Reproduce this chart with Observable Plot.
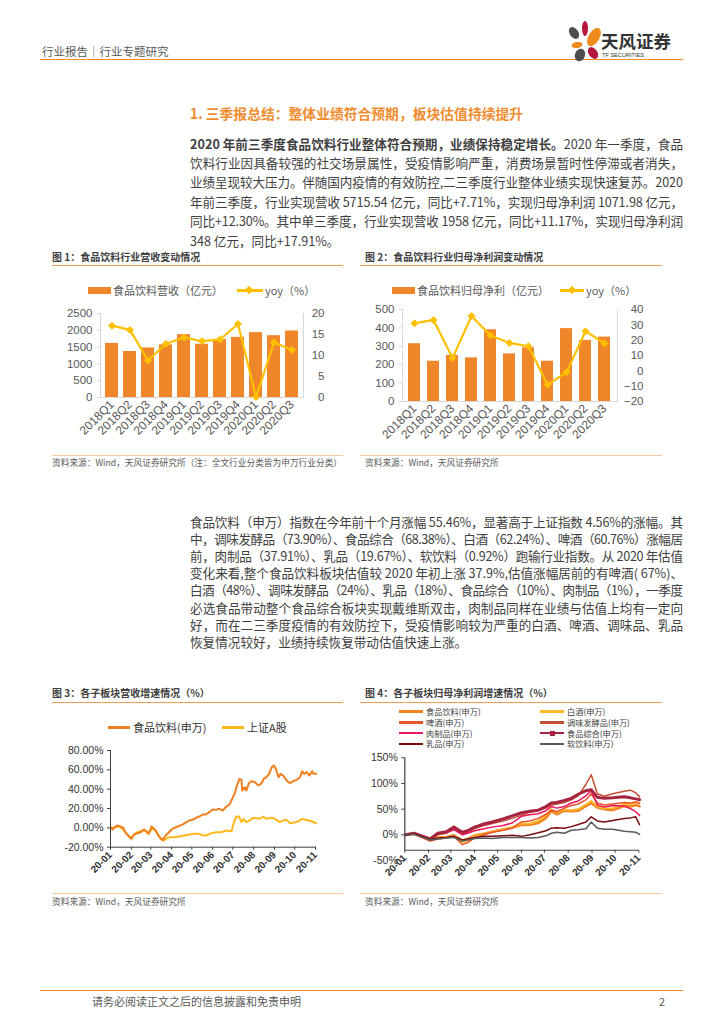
<!DOCTYPE html>
<html><head><meta charset="utf-8">
<script src="https://cdn.jsdelivr.net/npm/d3@7"></script>
<script src="https://cdn.jsdelivr.net/npm/@observablehq/plot@0.6"></script>
<style>
body{margin:0;background:#fff;}
#page{position:relative;width:724px;height:1024px;overflow:hidden;font-family:"Noto Sans CJK SC","Noto Sans",sans-serif;color:#333;background:#fff;}
.a{position:absolute;white-space:nowrap;}
.pl{position:absolute;left:190px;width:493px;height:19px;line-height:19px;font-size:12.6px;color:#404040;white-space:nowrap;font-family:"Liberation Sans Narrow","Noto Sans CJK SC",sans-serif;}
.figt{position:absolute;font-size:10px;font-weight:bold;color:#404040;line-height:12px;white-space:nowrap;}
.hr{position:absolute;height:0;border-top:1px solid #F39C52;}
.hr2{position:absolute;height:0;border-top:1px solid #F8C8A0;}
.src{position:absolute;font-size:8.7px;color:#595959;line-height:10px;white-space:nowrap;}
.chart{position:absolute;}
.leg{position:absolute;font-size:11px;color:#595959;line-height:14px;white-space:nowrap;}
.leg4{position:absolute;font-size:8.2px;color:#404040;line-height:9px;height:9px;white-space:nowrap;}
.sw{position:absolute;}
</style></head>
<body><div id="page">

<!-- header -->
<div class="a" style="left:42px;top:44px;font-size:11.5px;line-height:14px;color:#595959;">行业报告｜行业专题研究</div>
<div class="a" style="left:40px;top:59px;width:643px;height:0;border-top:1.5px solid #F08A24;"></div>
<svg class="a" style="left:562px;top:18px;" width="42" height="46" viewBox="562 18 42 46">
  <ellipse cx="574" cy="33" rx="4.3" ry="6.5" fill="#4D4D4D" transform="rotate(-35 574 33)"/>
  <ellipse cx="585" cy="28.5" rx="3" ry="7.5" fill="#B5173D"/>
  <ellipse cx="594" cy="37" rx="5.5" ry="10" fill="#F08A1C" transform="rotate(30 594 37)"/>
  <ellipse cx="577" cy="45" rx="5.5" ry="3" fill="#F08A1C" transform="rotate(-10 577 45)"/>
  <ellipse cx="593" cy="53" rx="4.3" ry="6.5" fill="#B5173D" transform="rotate(-35 593 53)"/>
  <ellipse cx="580" cy="55" rx="5" ry="6.5" fill="#4D4D4D" transform="rotate(20 580 55)"/>
</svg>
<div class="a" style="left:601px;top:31px;font-size:17.5px;line-height:20px;font-weight:bold;color:#333;">天风证券</div>
<div class="a" style="left:602px;top:52px;font-size:5.6px;line-height:7px;color:#333;font-family:'Liberation Sans',sans-serif;">TF SECURITIES</div>

<!-- section title -->
<div class="a" style="left:190px;top:104px;font-size:13.8px;line-height:18px;font-weight:bold;color:#F08C2E;">1. 三季报总结：整体业绩符合预期，板块估值持续提升</div>

<div id="para1"></div>

<!-- figure 1 / 2 titles -->
<div class="figt" style="left:52px;top:251px;">图 1：食品饮料行业营收变动情况</div>
<div class="figt" style="left:365px;top:251px;">图 2：食品饮料行业归母净利润变动情况</div>
<div class="hr" style="left:52px;top:265px;width:291px;"></div>
<div class="hr" style="left:360px;top:265px;width:302px;"></div>

<!-- legends 1/2 -->
<div class="sw" style="left:88px;top:287px;width:23px;height:7px;background:#F0862A;"></div>
<div class="leg" style="left:113px;top:283px;">食品饮料营收（亿元）</div>
<div class="sw" style="left:237px;top:289px;width:26px;height:2.5px;background:#FFC000;"></div>
<div class="sw" style="left:246px;top:287px;width:6px;height:6px;background:#FFC000;transform:rotate(45deg);"></div>
<div class="leg" style="left:265px;top:283px;">yoy（%）</div>

<div class="sw" style="left:392px;top:287px;width:23px;height:7px;background:#F0862A;"></div>
<div class="leg" style="left:417px;top:283px;">食品饮料归母净利（亿元）</div>
<div class="sw" style="left:560px;top:289px;width:24px;height:2.5px;background:#FFC000;"></div>
<div class="sw" style="left:569px;top:287px;width:6px;height:6px;background:#FFC000;transform:rotate(45deg);"></div>
<div class="leg" style="left:586px;top:283px;">yoy（%）</div>

<div id="c1" class="chart" style="left:40px;top:300px;"></div>
<div id="c2" class="chart" style="left:360px;top:300px;"></div>

<div class="hr2" style="left:52px;top:455px;width:291px;"></div>
<div class="hr2" style="left:360px;top:455px;width:302px;"></div>
<div class="src" style="left:52px;top:458px;">资料来源：Wind，天风证券研究所（注：全文行业分类皆为申万行业分类）</div>
<div class="src" style="left:365px;top:458px;">资料来源：Wind，天风证券研究所</div>

<div id="para2"></div>

<!-- figure 3 / 4 -->
<div class="figt" style="left:52px;top:687px;">图 3：各子板块营收增速情况（%）</div>
<div class="figt" style="left:365px;top:687px;">图 4：各子板块归母净利润增速情况（%）</div>
<div class="hr" style="left:52px;top:702px;width:291px;"></div>
<div class="hr" style="left:360px;top:702px;width:302px;"></div>

<div class="sw" style="left:108px;top:726px;width:22px;height:2.5px;background:#F07F1F;"></div>
<div class="leg" style="left:133px;top:720px;color:#333;">食品饮料(申万)</div>
<div class="sw" style="left:222px;top:726px;width:22px;height:2.5px;background:#FFB81C;"></div>
<div class="leg" style="left:247px;top:720px;color:#333;">上证A股</div>

<div id="leg4"></div>

<div id="c3" class="chart" style="left:40px;top:740px;"></div>
<div id="c4" class="chart" style="left:360px;top:750px;"></div>

<div class="hr2" style="left:52px;top:893px;width:291px;"></div>
<div class="hr2" style="left:360px;top:893px;width:302px;"></div>
<div class="src" style="left:52px;top:897px;">资料来源：Wind，天风证券研究所</div>
<div class="src" style="left:365px;top:897px;">资料来源：Wind，天风证券研究所</div>

<!-- footer -->
<div class="a" style="left:40px;top:990px;width:643px;height:0;border-top:1.5px solid #F08A24;"></div>
<div class="a" style="left:92px;top:995px;font-size:11px;line-height:13px;color:#595959;">请务必阅读正文之后的信息披露和免责申明</div>
<div class="a" style="left:659px;top:995px;font-size:11px;line-height:13px;color:#595959;">2</div>

</div>
<script>
// ================= DATA =================
const para1Lines = [
  "<b>2020 年前三季度食品饮料行业整体符合预期，业绩保持稳定增长。</b>2020 年一季度，食品",
  "饮料行业因具备较强的社交场景属性，受疫情影响严重，消费场景暂时性停滞或者消失，",
  "业绩呈现较大压力。伴随国内疫情的有效防控,二三季度行业整体业绩实现快速复苏。2020",
  "年前三季度，行业实现营收 5715.54 亿元，同比+7.71%，实现归母净利润 1071.98 亿元，",
  "同比+12.30%。其中单三季度，行业实现营收 1958 亿元，同比+11.17%，实现归母净利润",
  "348 亿元，同比+17.91%。"
];
const para2Lines = [
  "食品饮料（申万）指数在今年前十个月涨幅 55.46%，显著高于上证指数 4.56%的涨幅。其",
  "中，调味发酵品（73.90%）、食品综合（68.38%）、白酒（62.24%）、啤酒（60.76%）涨幅居",
  "前，肉制品（37.91%）、乳品（19.67%）、软饮料（0.92%）跑输行业指数。从 2020 年估值",
  "变化来看,整个食品饮料板块估值较 2020 年初上涨 37.9%,估值涨幅居前的有啤酒( 67%)、",
  "白酒（48%）、调味发酵品（24%）、乳品（18%）、食品综合（10%）、肉制品（1%），一季度",
  "必选食品带动整个食品综合板块实现戴维斯双击，肉制品同样在业绩与估值上均有一定向",
  "好，而在二三季度疫情的有效防控下，受疫情影响较为严重的白酒、啤酒、调味品、乳品",
  "恢复情况较好，业绩持续恢复带动估值快速上涨。"
];

// Figure 1
const quarters = ["2018Q1","2018Q2","2018Q3","2018Q4","2019Q1","2019Q2","2019Q3","2019Q4","2020Q1","2020Q2","2020Q3"];
const revenue = [1610,1370,1475,1565,1870,1585,1730,1790,1930,1840,1980];
const revenueYoy = [17.1,16.1,8.8,12.8,14.3,13.4,13.8,17.5,0.1,13.1,11.3];
const revLeftTicks = [0,500,1000,1500,2000,2500];
const revRightTicks = [0,5,10,15,20];

// Figure 2
const profit = [314,219,250,237,390,259,292,219,396,332,350];
const profitYoy = [31,33.2,8.3,35.8,23,18.2,16,-9.1,-1,25.8,17.9];
const profLeftTicks = [0,100,200,300,400,500];
const profRightTicks = [-20,-10,0,10,20,30,40];

// Figure 3
const monthTicks = ["2020-01-01","2020-02-01","2020-03-01","2020-04-01","2020-05-01","2020-06-01","2020-07-01","2020-08-01","2020-09-01","2020-10-01","2020-11-01"];
const fig3Ticks = [-20,0,20,40,60,80];
const foodIndex = [
 ["2020-01-02",0],["2020-01-04",-2],["2020-01-06",0],["2020-01-11",2.4],["2020-01-16",1.4],["2020-01-20",0],
 ["2020-01-23",-4.5],["2020-01-28",-8.6],["2020-02-01",-11.4],["2020-02-05",-6.9],["2020-02-10",-5.5],["2020-02-15",-4.5],
 ["2020-02-20",-1.7],["2020-02-25",-4.5],["2020-02-27",-6.2],["2020-03-02",1.4],["2020-03-06",-1],["2020-03-09",-3.4],
 ["2020-03-12",-7.9],["2020-03-16",-11.4],["2020-03-19",-12.4],["2020-03-23",-7.9],["2020-03-28",-4.5],["2020-04-02",-1],
 ["2020-04-10",1.4],["2020-04-17",3.4],["2020-04-22",5.5],["2020-04-27",7.6],["2020-05-02",8.3],["2020-05-07",10.3],
 ["2020-05-12",11.7],["2020-05-17",13.8],["2020-05-22",13.8],["2020-05-27",16.2],["2020-06-01",19],["2020-06-06",18.6],
 ["2020-06-11",19.7],["2020-06-16",17.9],["2020-06-21",22],["2020-06-26",24],["2020-06-30",30],["2020-07-04",35.9],
 ["2020-07-07",43.8],["2020-07-11",50.7],["2020-07-14",49.7],["2020-07-15",38.6],["2020-07-19",42],["2020-07-21",38.6],
 ["2020-07-25",46.2],["2020-07-29",48.3],["2020-08-03",47.2],["2020-08-08",43.8],["2020-08-13",46.2],["2020-08-16",50.7],
 ["2020-08-20",52.4],["2020-08-24",55.9],["2020-08-28",62.8],["2020-08-31",64.5],["2020-09-03",61],["2020-09-07",52.4],
 ["2020-09-10",55.9],["2020-09-14",54.1],["2020-09-19",49],["2020-09-24",46.2],["2020-09-29",48.3],["2020-10-04",49.7],
 ["2020-10-09",52.4],["2020-10-12",58.6],["2020-10-15",55.9],["2020-10-19",57.6],["2020-10-23",54.1],["2020-10-27",58.6],
 ["2020-10-29",55.9],["2020-11-02",55.9]
];
const sseIndex = [
 ["2020-01-02",0],["2020-01-06",0],["2020-01-11",1.4],["2020-01-16",0.7],["2020-01-21",-2.8],["2020-01-26",-6.9],
 ["2020-02-01",-10.3],["2020-02-05",-6.9],["2020-02-10",-4.5],["2020-02-15",-3.4],["2020-02-20",-2],["2020-02-25",-5.5],
 ["2020-03-01",-2.8],["2020-03-04",0],["2020-03-08",-3.4],["2020-03-13",-7.9],["2020-03-18",-13],["2020-03-22",-12.4],
 ["2020-03-26",-10.3],["2020-03-31",-9.7],["2020-04-05",-9.7],["2020-04-12",-9],["2020-04-20",-7.9],["2020-04-27",-6.9],
 ["2020-05-05",-6.2],["2020-05-12",-6.2],["2020-05-17",-7.6],["2020-05-22",-7.9],["2020-05-30",-5.5],["2020-06-06",-4.5],
 ["2020-06-14",-4.5],["2020-06-21",-2.8],["2020-06-29",-3.4],["2020-07-02",4.1],["2020-07-06",11.7],["2020-07-10",11.7],
 ["2020-07-14",5.9],["2020-07-17",9.3],["2020-07-21",5.9],["2020-07-26",7.6],["2020-07-31",10.3],["2020-08-05",10.3],
 ["2020-08-10",9.3],["2020-08-15",11.7],["2020-08-20",9.3],["2020-08-25",10.3],["2020-08-30",10.3],["2020-09-04",8.3],
 ["2020-09-09",5.9],["2020-09-14",7.6],["2020-09-19",8.3],["2020-09-24",4.8],["2020-10-02",5.9],["2020-10-07",6.9],
 ["2020-10-12",9.3],["2020-10-17",8.3],["2020-10-22",7.6],["2020-10-27",6.6],["2020-11-02",4.8]
];

// Figure 4
const fig4Ticks = [-50,0,50,100,150];
const fig4AxisCross = -30;
const subDates = ["2020-01-02","2020-01-13","2020-01-23","2020-02-03","2020-02-13","2020-02-24","2020-03-05","2020-03-16",
 "2020-03-23","2020-04-01","2020-04-13","2020-04-24","2020-05-08","2020-05-20","2020-06-01","2020-06-12","2020-06-23",
 "2020-07-03","2020-07-10","2020-07-17","2020-07-27","2020-08-05","2020-08-14","2020-08-24","2020-08-31","2020-09-08",
 "2020-09-17","2020-09-28","2020-10-13","2020-10-21","2020-10-28","2020-11-02"];
const subNames = ["食品饮料(申万)","白酒(申万)","啤酒(申万)","调味发酵品(申万)","肉制品(申万)","食品综合(申万)","乳品(申万)","软饮料(申万)"];
const swFood      = [0,2,-4,-10,-5,-4,-1,-11,-8,-1.5,2,6,10.5,14,19,19.5,23,33,46,40,47,46,47,56,62,53,50,48,56,55,58,55.5];
const swBaijiu    = [0,3,-4,-11,-6,-5,-2,-14,-11,-3,1,6,11,15,22,22,27,38,50,43,49,48,50,59,66,56,51,52,60,60,63,62.2];
const swBeer      = [0,2,-5,-12,-8,-6,-3,-19,-15,-6,0,5,9,13,25,27,32,40,48,45,52,57,60,68,80,62,58,60,63,62,64,60.8];
const swSeasoning = [0,3,-3,-9,0,3,12,2,5,12,18,22,27,32,38,44,48,52,58,60,63,68,76,98,117,80,75,80,85,87,82,73.9];
const swMeat      = [0,3,-3,-9,2,4,10,0,3,8,12,15,18,23,36,39,41,47,55,52,55,62,66,76,86,58,54,57,56,51,45,37.9];
const swGeneral   = [0,3,-2,-8,3,6,15,5,8,15,21,25,31,37,43,46,48,55,62,63,67,71,79,86,88,73,71,72,74,72,70,68.4];
const swDairy     = [0,2,-3,-9,-6,-5,-3,-10,-8,-5,-3,-3,-2,-1,-3,0,4,8,13,14,13,16,20,25,35,27,25,28,32,33,35,19.7];
const swSoft      = [0,1,-4,-10,-8,-6,-5,-12,-10,-7,-6,-7,-5,-5,-5,-6,-5,-2,3,5,3,9,10,12,25,13,11,11,7,6,5,0.9];

// ================= STYLE =================
const subValues = [swFood,swBaijiu,swBeer,swSeasoning,swMeat,swGeneral,swDairy,swSoft];
const subColors = ["#F5821F","#FFBA26","#E9542B","#C25034","#F0145A","#A6243F","#7A0C12","#5A5A5A"];
const subWidths = [2.5,1.8,1.5,1.5,1.5,3,1.5,1.5];
const barColor = "#F0862A", yoyColor = "#FFC000";
const numFont = "'Liberation Sans', Arial, sans-serif";
const paraWidth = 493;

// ================= PARAGRAPHS =================
function buildPara(id, lines, top0, step){
  const host = document.getElementById(id);
  lines.forEach((t,i)=>{
    const d = document.createElement("div");
    d.className = "pl";
    d.style.top = (top0 + i*step) + "px";
    const s = document.createElement("span");
    s.innerHTML = t;
    d.appendChild(s);
    if (i === lines.length-1) d.dataset.last = "1";
    host.appendChild(d);
  });
}
buildPara("para1", para1Lines, 133.5, 19.4);
buildPara("para2", para2Lines, 511.5, 17.2);
function fitLines(){
  document.querySelectorAll(".pl").forEach(d=>{
    if (d.dataset.last) return;
    d.style.letterSpacing = "0px";
    const s = d.firstChild;
    const w = s.getBoundingClientRect().width;
    const n = [...s.textContent].length;
    d.style.letterSpacing = ((paraWidth - w)/(n-1)) + "px";
  });
}
fitLines();
if (document.fonts && document.fonts.ready) document.fonts.ready.then(fitLines);

// ================= LEGEND 4 =================
(function(){
  const host = document.getElementById("leg4");
  const rows = [711.5,722.3,733.1,743.9];
  subNames.forEach((n,i)=>{
    const col = i%2, row = Math.floor(i/2);
    const lx = col ? 540 : 399, tx = col ? 567 : 426;
    const cy = rows[row];
    const sw = document.createElement("div");
    sw.className = "sw";
    sw.style.cssText = `left:${lx}px;top:${cy-1.25}px;width:24px;height:2.5px;background:${subColors[i]};`;
    host.appendChild(sw);
    if (i === 5){
      const m = document.createElement("div");
      m.className = "sw";
      m.style.cssText = `left:${lx+9.5}px;top:${cy-2.5}px;width:5px;height:5px;background:${subColors[i]};`;
      host.appendChild(m);
    }
    const t = document.createElement("div");
    t.className = "leg4";
    t.style.top = (cy-4.5) + "px";
    t.style.left = tx + "px";
    t.textContent = n;
    host.appendChild(t);
  });
})();

// ================= CHART 1 =================
const k1 = revLeftTicks[revLeftTicks.length-1] / revRightTicks[revRightTicks.length-1];
const rev = quarters.map((q,i)=>({q, v:revenue[i], yoy:revenueYoy[i]*k1}));
const c1 = Plot.plot({
  width:300, height:150, marginLeft:60, marginRight:37, marginTop:13, marginBottom:53,
  style:{fontFamily:numFont, fontSize:"11px", color:"#595959", background:"transparent", overflow:"visible"},
  x:{domain:quarters, paddingInner:0.3, paddingOuter:0.15, label:null},
  y:{domain:[revLeftTicks[0], revLeftTicks[revLeftTicks.length-1]], label:null},
  marks:[
    Plot.barY(rev,{x:"q", y:"v", fill:barColor}),
    Plot.frame({anchor:"left", stroke:"#D9D9D9"}),
    Plot.frame({anchor:"right", stroke:"#D9D9D9"}),
    Plot.ruleY([0],{stroke:"#D9D9D9"}),
    Plot.axisY(revLeftTicks,{anchor:"left", tickSize:3, tickPadding:5, stroke:"#D9D9D9", fill:"#595959", label:null, tickFormat:d=>String(d), fontSize:11.5}),
    Plot.axisY(revRightTicks.map(v=>v*k1),{anchor:"right", tickSize:3, tickPadding:3, stroke:"#D9D9D9", fill:"#595959", label:null, tickFormat:d=>String(Math.round(d/k1)), textAnchor:"end", dx:15, fontSize:11.5}),
    Plot.axisX({tickRotate:-45, tickSize:0, tickPadding:5, fill:"#595959", label:null, fontSize:12}),
    Plot.line(rev,{x:"q", y:"yoy", stroke:yoyColor, strokeWidth:2.2}),
    Plot.dot(rev,{x:"q", y:"yoy", symbol:"diamond2", fill:yoyColor, r:3.6})
  ]
});
document.getElementById("c1").appendChild(c1);

// ================= CHART 2 =================
const p0 = profRightTicks[0];
const k2 = (profLeftTicks[profLeftTicks.length-1]-profLeftTicks[0]) / (profRightTicks[profRightTicks.length-1]-p0);
const prof = quarters.map((q,i)=>({q, v:profit[i], yoy:(profitYoy[i]-p0)*k2}));
const c2 = Plot.plot({
  width:300, height:150, marginLeft:42, marginRight:43, marginTop:9, marginBottom:49,
  style:{fontFamily:numFont, fontSize:"11px", color:"#595959", background:"transparent", overflow:"visible"},
  x:{domain:quarters, paddingInner:0.35, paddingOuter:0.175, label:null},
  y:{domain:[profLeftTicks[0], profLeftTicks[profLeftTicks.length-1]], label:null},
  marks:[
    Plot.barY(prof,{x:"q", y:"v", fill:barColor}),
    Plot.frame({anchor:"left", stroke:"#D9D9D9"}),
    Plot.frame({anchor:"right", stroke:"#D9D9D9"}),
    Plot.ruleY([0],{stroke:"#D9D9D9"}),
    Plot.axisY(profLeftTicks,{anchor:"left", tickSize:3, tickPadding:5, stroke:"#D9D9D9", fill:"#595959", label:null, tickFormat:d=>String(d), fontSize:11.5}),
    Plot.axisY(profRightTicks.map(v=>(v-p0)*k2),{anchor:"right", tickSize:3, tickPadding:3, stroke:"#D9D9D9", fill:"#595959", label:null, tickFormat:d=>String(Math.round(d/k2+p0)).replace("-","−"), textAnchor:"end", dx:20, fontSize:11.5}),
    Plot.axisX({tickRotate:-45, tickSize:0, tickPadding:5, fill:"#595959", label:null, fontSize:12}),
    Plot.line(prof,{x:"q", y:"yoy", stroke:yoyColor, strokeWidth:2.2}),
    Plot.dot(prof,{x:"q", y:"yoy", symbol:"diamond2", fill:yoyColor, r:3.6})
  ]
});
document.getElementById("c2").appendChild(c2);

// ================= CHART 3 =================
const parse = d3.utcParse("%Y-%m-%d");
const months = monthTicks.map(parse);
const c3 = Plot.plot({
  width:300, height:150, marginLeft:70, marginRight:25, marginTop:10, marginBottom:43.3,
  style:{fontFamily:numFont, fontSize:"10px", color:"#333", background:"transparent", overflow:"visible"},
  x:{type:"utc", domain:[months[0], months[months.length-1]], label:null},
  y:{domain:[fig3Ticks[0], fig3Ticks[fig3Ticks.length-1]], label:null},
  marks:[
    Plot.line(sseIndex,{x:d=>parse(d[0]), y:d=>d[1], stroke:"#FFB81C", strokeWidth:2}),
    Plot.line(foodIndex,{x:d=>parse(d[0]), y:d=>d[1], stroke:"#F07F1F", strokeWidth:2}),
    Plot.frame({anchor:"left", stroke:"#404040"}),
    Plot.frame({anchor:"bottom", stroke:"#404040"}),
    Plot.axisY(fig3Ticks,{tickSize:3, tickPadding:4, stroke:"#404040", label:null, tickFormat:d=>d.toFixed(2)+"%", fontSize:10.5}),
    Plot.axisX(months,{tickRotate:-45, tickSize:3, tickPadding:3, stroke:"#404040", label:null, tickFormat:d3.utcFormat("%y-%m"), fontWeight:"bold", fontSize:10})
  ]
});
document.getElementById("c3").appendChild(c3);

// ================= CHART 4 =================
const h4 = 140, mt4 = 7.3, mb4 = 30;
const y4min = fig4Ticks[0], y4max = fig4Ticks[fig4Ticks.length-1];
const crossDy = -(h4-mt4-mb4) * (fig4AxisCross - y4min) / (y4max - y4min);
const sub = [];
subValues.forEach((vals,si)=>vals.forEach((v,i)=>sub.push({s:si, date:parse(subDates[i]), v})));
const c4 = Plot.plot({
  width:300, height:h4, marginLeft:44.3, marginRight:21.7, marginTop:mt4, marginBottom:mb4,
  style:{fontFamily:numFont, fontSize:"10px", color:"#333", background:"transparent", overflow:"visible"},
  x:{type:"utc", domain:[months[0], months[months.length-1]], label:null},
  y:{domain:[y4min, y4max], label:null},
  marks:[
    ...subValues.map((vals,si)=>Plot.line(sub.filter(d=>d.s===si),{x:"date", y:"v", stroke:subColors[si], strokeWidth:subWidths[si]})),
    Plot.ruleY([fig4AxisCross],{stroke:"#404040", strokeWidth:1.2}),
    Plot.ruleX([months[0]],{y1:fig4AxisCross, y2:y4max, stroke:"#404040", strokeWidth:1.2}),
    Plot.axisY(fig4Ticks,{tickSize:3, tickPadding:4, stroke:"#404040", label:null, tickFormat:d=>d+"%", fontSize:10.5}),
    Plot.axisX(months,{tickRotate:-45, tickSize:3, tickPadding:3, dy:crossDy, stroke:"#404040", label:null, tickFormat:d3.utcFormat("%y-%m"), fontWeight:"bold", fontSize:10})
  ]
});
document.getElementById("c4").appendChild(c4);
</script>
</body></html>
